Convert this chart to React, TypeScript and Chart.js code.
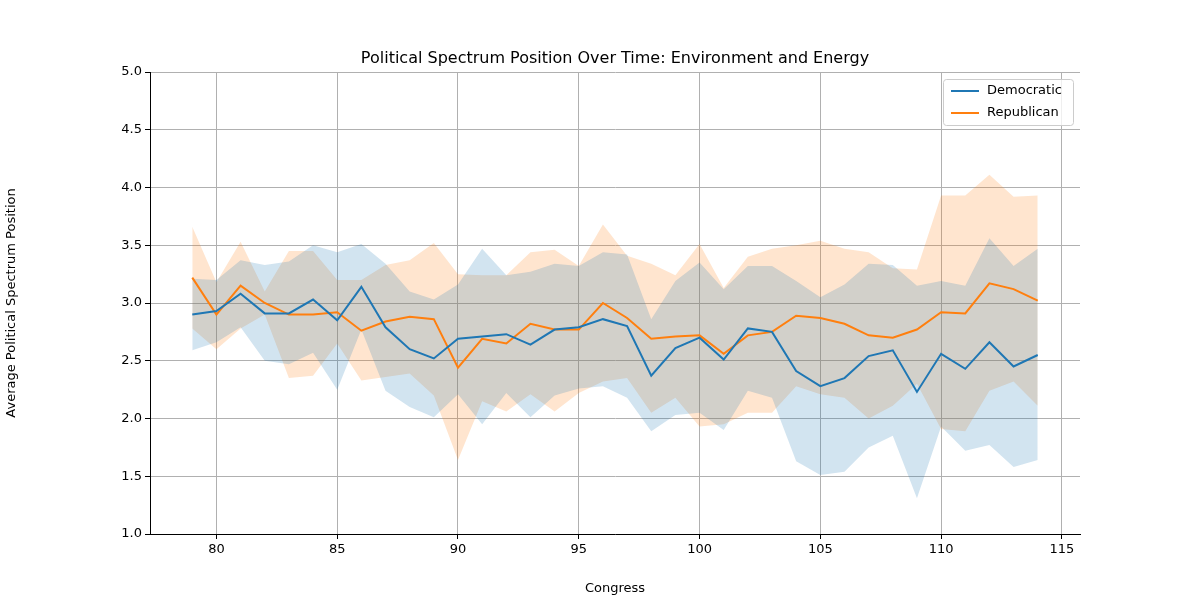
import { useEffect, useRef } from 'react';
import Chart from 'chart.js/auto';

const congress = Array.from({ length: 36 }, (_, i) => 79 + i);

const demMean = [2.90, 2.93, 3.08, 2.91, 2.91, 3.03, 2.85, 3.14, 2.79, 2.60, 2.52, 2.69, 2.71, 2.73, 2.64, 2.77, 2.79, 2.86, 2.80, 2.37, 2.61, 2.70, 2.51, 2.78, 2.75, 2.41, 2.28, 2.35, 2.54, 2.59, 2.23, 2.56, 2.43, 2.66, 2.45, 2.55];
const demUpper = [3.21, 3.20, 3.37, 3.33, 3.36, 3.50, 3.44, 3.51, 3.34, 3.10, 3.03, 3.16, 3.47, 3.24, 3.27, 3.34, 3.32, 3.44, 3.42, 2.86, 3.19, 3.35, 3.12, 3.32, 3.32, 3.19, 3.05, 3.16, 3.34, 3.33, 3.15, 3.19, 3.15, 3.56, 3.32, 3.47];
const demLower = [2.59, 2.66, 2.79, 2.50, 2.47, 2.57, 2.25, 2.77, 2.24, 2.10, 2.01, 2.21, 1.95, 2.22, 2.01, 2.20, 2.26, 2.28, 2.18, 1.89, 2.03, 2.05, 1.90, 2.24, 2.18, 1.63, 1.51, 1.54, 1.75, 1.85, 1.31, 1.93, 1.72, 1.77, 1.58, 1.64];
const repMean = [3.22, 2.90, 3.15, 3.00, 2.90, 2.90, 2.92, 2.76, 2.84, 2.88, 2.86, 2.44, 2.69, 2.65, 2.82, 2.77, 2.77, 3.00, 2.87, 2.69, 2.71, 2.72, 2.56, 2.72, 2.75, 2.89, 2.87, 2.82, 2.72, 2.70, 2.77, 2.92, 2.91, 3.17, 3.12, 3.02];
const repUpper = [3.66, 3.18, 3.53, 3.10, 3.45, 3.45, 3.20, 3.20, 3.33, 3.37, 3.52, 3.25, 3.24, 3.24, 3.44, 3.46, 3.32, 3.68, 3.41, 3.34, 3.24, 3.51, 3.13, 3.40, 3.47, 3.50, 3.54, 3.47, 3.44, 3.30, 3.29, 3.93, 3.93, 4.11, 3.92, 3.93];
const repLower = [2.78, 2.60, 2.78, 2.90, 2.35, 2.37, 2.65, 2.33, 2.36, 2.39, 2.20, 1.64, 2.15, 2.06, 2.21, 2.06, 2.22, 2.32, 2.35, 2.05, 2.18, 1.93, 1.95, 2.05, 2.05, 2.28, 2.21, 2.18, 2.00, 2.11, 2.30, 1.91, 1.89, 2.24, 2.32, 2.11];

const BLUE = '#1f77b4';
const ORANGE = '#ff7f0e';
const FONT = 'DejaVu Sans';

const pts = (arr: number[]) => arr.map((y, i) => ({ x: congress[i], y }));

export default function App() {
    const canvasRef = useRef<HTMLCanvasElement>(null);

    useEffect(() => {
        document.body.style.margin = '0';
        if (!canvasRef.current) return;

        const band = (label: string, data: number[], fill: any, color: string) => ({
            label, data: pts(data), borderWidth: 0, pointRadius: 0, fill,
            backgroundColor: color, borderColor: 'transparent', order: 2
        });
        const line = (label: string, data: number[], color: string) => ({
            label, data: pts(data), borderColor: color, borderWidth: 2, pointRadius: 0,
            fill: false, tension: 0, order: 1
        });

        const overlay = {
            id: 'overlay',
            afterDraw(chart: any) {
                const { ctx, chartArea: a } = chart;
                ctx.save();
                ctx.fillStyle = '#000';
                ctx.font = `16px "${FONT}"`;
                ctx.textAlign = 'center';
                ctx.textBaseline = 'bottom';
                ctx.fillText('Political Spectrum Position Over Time: Environment and Energy', (a.left + a.right) / 2, a.top - 5);
                // legend
                const w = 130, h = 46, x0 = a.right - w - 7, y0 = a.top + 7;
                ctx.fillStyle = 'rgba(255,255,255,0.8)';
                ctx.strokeStyle = '#ccc';
                ctx.lineWidth = 1;
                ctx.beginPath();
                ctx.roundRect(x0 + 0.5, y0 + 0.5, w, h, 3);
                ctx.fill();
                ctx.stroke();
                ctx.font = `13px "${FONT}"`;
                ctx.textAlign = 'left';
                ctx.textBaseline = 'middle';
                [['Democratic', BLUE], ['Republican', ORANGE]].forEach(([t, c], i) => {
                    const yy = y0 + 12 + i * 22;
                    ctx.strokeStyle = c;
                    ctx.lineWidth = 2;
                    ctx.beginPath();
                    ctx.moveTo(x0 + 8, yy);
                    ctx.lineTo(x0 + 36, yy);
                    ctx.stroke();
                    ctx.fillStyle = '#000';
                    ctx.fillText(t, x0 + 44, yy);
                });
                ctx.restore();
            }
        };

        const chart = new Chart(canvasRef.current, {
            type: 'line',
            data: {
                datasets: [
                    band('demLower', demLower, false, 'rgba(31,119,180,0.2)'),
                    band('demUpper', demUpper, '-1', 'rgba(31,119,180,0.2)'),
                    band('repLower', repLower, false, 'rgba(255,127,14,0.2)'),
                    band('repUpper', repUpper, '-1', 'rgba(255,127,14,0.2)'),
                    line('Democratic', demMean, BLUE),
                    line('Republican', repMean, ORANGE)
                ] as any
            },
            options: {
                animation: false,
                responsive: false,
                layout: { padding: { left: 0, right: 120, top: 72, bottom: 0 } },
                plugins: { legend: { display: false }, tooltip: { enabled: false } },
                scales: {
                    x: {
                        type: 'linear', min: 77.25, max: 115.75,
                        afterFit: (s: any) => { s.height = 66; },
                        afterBuildTicks: (s: any) => { s.ticks = [80, 85, 90, 95, 100, 105, 110, 115].map(v => ({ value: v })); },
                        grid: { color: '#b0b0b0', tickColor: '#000', tickLength: 5 },
                        border: { color: '#000' },
                        ticks: { color: '#000', font: { family: FONT, size: 13 }, maxRotation: 0 },
                        title: { display: true, text: 'Congress', color: '#000', font: { family: FONT, size: 13 }, padding: { top: 2 } }
                    },
                    y: {
                        min: 1, max: 5,
                        afterFit: (s: any) => { s.width = 150; },
                        grid: { color: '#b0b0b0', tickColor: '#000', tickLength: 5 },
                        border: { color: '#000' },
                        ticks: { stepSize: 0.5, color: '#000', font: { family: FONT, size: 13 }, callback: (v: any) => Number(v).toFixed(1) },
                        title: { display: true, text: 'Average Political Spectrum Position', color: '#000', font: { family: FONT, size: 13 } }
                    }
                }
            },
            plugins: [overlay]
        });

        return () => chart.destroy();
    }, []);

    return <canvas ref={canvasRef} width={1200} height={600} style={{ width: '1200px', height: '600px', display: 'block' }} />;
}
